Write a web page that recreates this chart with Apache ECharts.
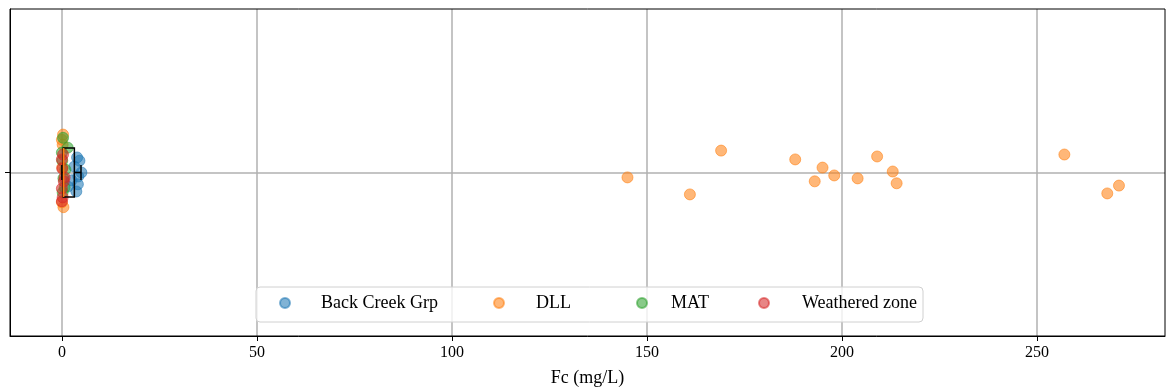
<!DOCTYPE html>
<html>
<head>
<meta charset="utf-8">
<script src="https://cdn.jsdelivr.net/npm/echarts@6/dist/echarts.min.js"></script>
<style>
  html, body { margin: 0; padding: 0; background: #fff; }
  #chart { width: 1166px; height: 392px; }
</style>
</head>
<body>
<div id="chart"></div>
<script>
// --- data (Fc in mg/L, y = strip jitter around the single category) ---
const groups = ['Back Creek Grp', 'DLL', 'MAT', 'Weathered zone'];
const colors = ['rgba(31,119,180,0.7)', 'rgba(255,127,14,0.7)', 'rgba(44,160,44,0.7)', 'rgba(214,39,40,0.7)'];

const bcgX = [4.5, 5.0, 4.2, 4.1, 3.7, 3.2, 2.5, 1.5, 3.9];
const bcgY = [0.036, 0.000, -0.012, -0.036, -0.058, 0.018, -0.024, -0.043, 0.046];

const dllX = [0.3, 0.0, 0.2, 0.4, 0.0, 0.1,
              145, 161, 169, 188, 195, 193, 198, 204, 209, 213, 214, 257, 268, 271];
const dllY = [0.116, 0.100, 0.085, -0.106, -0.091, 0.015,
              -0.015, -0.067, 0.067, 0.040, 0.015, -0.027, -0.009, -0.018, 0.049, 0.003, -0.033, 0.055, -0.064, -0.040];

const matX = [0.3, 1.5, 0.0, 0.1, 0.7, 0.2, 0.9, 0.4];
const matY = [0.106, 0.076, 0.061, 0.036, -0.046, -0.061, 0.009, -0.018];

const wzX = [0.0, 0.1, 0.5, 0.0, 0.7, 0.2, 0.3, 0.0];
const wzY = [0.040, 0.012, -0.027, -0.088, -0.015, -0.076, 0.055, -0.049];

// boxplot stats of the whole set: [min, q1, median, q3, max]
const boxStats = [0, 0.35, 0.45, 3.2, 4.9];

const xTicks = [0, 50, 100, 150, 200, 250];

// --- layout ---
const FONT = 'Liberation Serif';
const legendCenters = [284, 498, 641, 763];
const legendTextPad = [26, 27, 19, 28];

const pairs = (xs, ys) => xs.map((x, i) => [x, ys[i]]);
const seriesData = [pairs(bcgX, bcgY), pairs(dllX, dllY), pairs(matX, matY), pairs(wzX, wzY)];

const chart = echarts.init(document.getElementById('chart'), null, { renderer: 'canvas' });

function renderBox(params, api) {
  const yc = api.coord([0, 0])[1];
  const px = i => api.coord([api.value(i), 0])[0];
  const lo = px(0), q1 = px(1), med = px(2), q3 = px(3), hi = px(4);
  const bh = api.size([0, 0.075])[1];   // half box height
  const ch = api.size([0, 0.023])[1];   // half cap height
  const st = { stroke: '#000', lineWidth: 1.5, fill: null };
  return {
    type: 'group',
    children: [
      { type: 'line', shape: { x1: lo, y1: yc, x2: q1, y2: yc }, style: st },
      { type: 'line', shape: { x1: q3, y1: yc, x2: hi, y2: yc }, style: st },
      { type: 'line', shape: { x1: lo, y1: yc - ch, x2: lo, y2: yc + ch }, style: st },
      { type: 'line', shape: { x1: hi, y1: yc - ch, x2: hi, y2: yc + ch }, style: st },
      { type: 'rect', shape: { x: q1, y: yc - bh, width: q3 - q1, height: 2 * bh }, style: st },
      { type: 'line', shape: { x1: med, y1: yc - bh, x2: med, y2: yc + bh },
        style: { stroke: '#ff7f0e', lineWidth: 1.5 } }
    ]
  };
}

chart.setOption({
  animation: false,
  backgroundColor: '#fff',
  textStyle: { fontFamily: FONT },
  grid: {
    left: 10, right: 1, top: 9, bottom: 54,
    show: true, z: 10, borderColor: '#000', borderWidth: 1, backgroundColor: 'transparent'
  },
  xAxis: {
    type: 'value',
    min: -13.3,
    max: 282.8,
    axisLine: { show: true, onZero: false, lineStyle: { color: '#000', width: 1 } },
    axisTick: { show: true, length: 5, lineStyle: { color: '#000' }, customValues: xTicks },
    axisLabel: { customValues: xTicks, color: '#000', fontFamily: FONT, fontSize: 16, margin: 9 },
    splitLine: { show: true, lineStyle: { color: '#b0b0b0', width: 1.5 } },
    name: 'Fc (mg/L)',
    nameLocation: 'middle',
    nameGap: 33,
    nameTextStyle: { color: '#000', fontFamily: FONT, fontSize: 18 }
  },
  yAxis: {
    type: 'value',
    min: -0.5,
    max: 0.5,
    interval: 0.5,
    axisLine: { show: true, onZero: false, lineStyle: { color: '#000', width: 1 } },
    axisTick: { show: true, length: 5, lineStyle: { color: '#000' }, customValues: [0] },
    axisLabel: { show: false },
    splitLine: { show: true, lineStyle: { color: '#b0b0b0', width: 1.5 } }
  },
  graphic: [{
    type: 'rect',
    z: 3,
    shape: { x: 256, y: 287, width: 667, height: 35, r: 4 },
    style: { fill: 'rgba(255,255,255,0.8)', stroke: '#d0d0d0', lineWidth: 1 }
  }],
  legend: groups.map((g, i) => ({
    data: [g],
    left: legendCenters[i] - 5,
    top: 294,
    padding: 0,
    icon: 'circle',
    itemWidth: 10,
    itemHeight: 10,
    z: 5,
    textStyle: { color: '#000', fontFamily: FONT, fontSize: 18, padding: [0, 0, 0, legendTextPad[i]] }
  })),
  series: groups.map((g, i) => ({
    name: g,
    type: 'scatter',
    data: seriesData[i],
    symbol: 'circle',
    symbolSize: 11,
    itemStyle: { color: colors[i], borderColor: colors[i], borderWidth: 1 },
    emphasis: { disabled: true }
  })).concat([{
    type: 'custom',
    name: 'box',
    z: 3,
    renderItem: renderBox,
    data: [boxStats.concat([0])],
    encode: { x: [0, 1, 2, 3, 4], y: 5 },
    silent: true
  }])
});
</script>
</body>
</html>
